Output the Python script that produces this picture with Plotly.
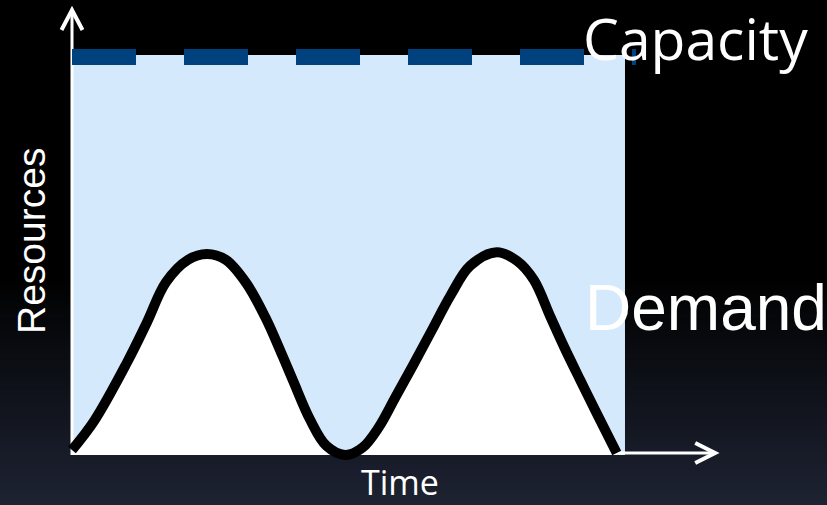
import plotly.graph_objects as go

# Demand over time (time and resources both on a 0-100 scale)
time = [0, 4, 9.9, 13.5, 17, 21, 24.4, 27.8, 31.5, 35, 38, 40, 43, 46, 49.4,
        52.5, 55.5, 58.5, 61.7, 65, 68.5, 72, 76.8, 80.5, 83.5, 86.5, 89,
        91.9, 94.9, 98.5]
demand = [1.25, 8.5, 23, 33, 43.2, 48.8, 50.25, 48.8, 43, 34.3, 25, 18.5, 9, 2.3, 0,
          1.8, 7, 14.5, 22.5, 31, 40, 47.3, 50.7, 48.5, 43.8, 34.6, 27,
          18.75, 10.4, 0.5]

capacity = 100
time_end = 100
capacity_line_end = 102

# Axis arrow extents
y_arrow_top = 111.25
x_arrow_end = 116.3
x_axis_level = 0.5

W, H = 827, 505
x_range = [-13.02, 136.53]
y_range = [-12.5, 113.75]

LIGHT_BLUE = "#D4E9FC"
DASH_BLUE = "#00427D"

fig = go.Figure()

shapes = []
# dark gradient towards the bottom of the page
n_bands = 40
top_frac = 0.46
c0 = (0, 0, 0)
c1 = (30, 35, 51)
for i in range(n_bands):
    y0 = top_frac * i / n_bands
    y1 = top_frac * (i + 1) / n_bands
    t = 1 - (i + 0.5) / n_bands
    col = tuple(int(round(a + (b - a) * t)) for a, b in zip(c0, c1))
    shapes.append(dict(type="rect", xref="paper", yref="paper", x0=0, x1=1,
                       y0=y0, y1=y1 + 0.002, line=dict(width=0),
                       fillcolor="rgb(%d,%d,%d)" % col, layer="below"))

# capacity area
shapes.append(dict(type="rect", xref="x", yref="y", x0=0, x1=time_end,
                   y0=0, y1=capacity, line=dict(width=0),
                   fillcolor=LIGHT_BLUE, layer="below"))

# axes with open arrowheads
ax_col = "white"
shapes.append(dict(type="line", xref="x", yref="y", x0=0, x1=0,
                   y0=0, y1=y_arrow_top, line=dict(color=ax_col, width=3),
                   layer="below"))
shapes.append(dict(type="path", xref="x", yref="y",
                   path="M %f %f L %f %f L %f %f" % (-1.9, y_arrow_top - 5, 0, y_arrow_top,
                                                     1.9, y_arrow_top - 5),
                   line=dict(color=ax_col, width=4), layer="below"))
shapes.append(dict(type="line", xref="x", yref="y", x0=0, x1=x_arrow_end,
                   y0=x_axis_level, y1=x_axis_level, line=dict(color=ax_col, width=3),
                   layer="below"))
shapes.append(dict(type="path", xref="x", yref="y",
                   path="M %f %f L %f %f L %f %f" % (x_arrow_end - 3.6, x_axis_level + 2.5,
                                                     x_arrow_end, x_axis_level,
                                                     x_arrow_end - 3.6, x_axis_level - 2.5),
                   line=dict(color=ax_col, width=4), layer="below"))

# demand curve with white area beneath
fig.add_trace(go.Scatter(
    x=time, y=demand, mode="lines",
    line=dict(color="black", width=10, shape="spline", smoothing=1.0),
    fill="tozeroy", fillcolor="white", hoverinfo="skip", showlegend=False))

# capacity level
fig.add_trace(go.Scatter(
    x=[0, capacity_line_end], y=[capacity - 0.5, capacity - 0.5], mode="lines",
    line=dict(color=DASH_BLUE, width=16, dash="64px,48px"),
    hoverinfo="skip", showlegend=False))

annotations = [
    dict(text="Capacity", x=695 / W, y=1 - 38 / H, xref="paper", yref="paper",
         showarrow=False, xanchor="center", yanchor="middle",
         font=dict(family="Open Sans", size=57, color="white")),
    dict(text="Demand", x=706 / W, y=1 - 308 / H, xref="paper", yref="paper",
         showarrow=False, xanchor="center", yanchor="middle",
         font=dict(family="Liberation Sans, Arial", size=64, color="white")),
    dict(text="Time", x=400 / W, y=1 - 482 / H, xref="paper", yref="paper",
         showarrow=False, xanchor="center", yanchor="middle",
         font=dict(family="Open Sans", size=34, color="white")),
    dict(text="Resources", x=31 / W, y=1 - 241 / H, xref="paper", yref="paper",
         showarrow=False, xanchor="center", yanchor="middle", textangle=-90,
         font=dict(family="Liberation Sans, Arial", size=39, color="white")),
]

fig.update_layout(
    width=W, height=H,
    margin=dict(l=0, r=0, t=0, b=0),
    paper_bgcolor="black", plot_bgcolor="rgba(0,0,0,0)",
    xaxis=dict(range=x_range, visible=False, fixedrange=True),
    yaxis=dict(range=y_range, visible=False, fixedrange=True),
    shapes=shapes, annotations=annotations,
)

fig.write_html("out.html", config={"displayModeBar": False})
